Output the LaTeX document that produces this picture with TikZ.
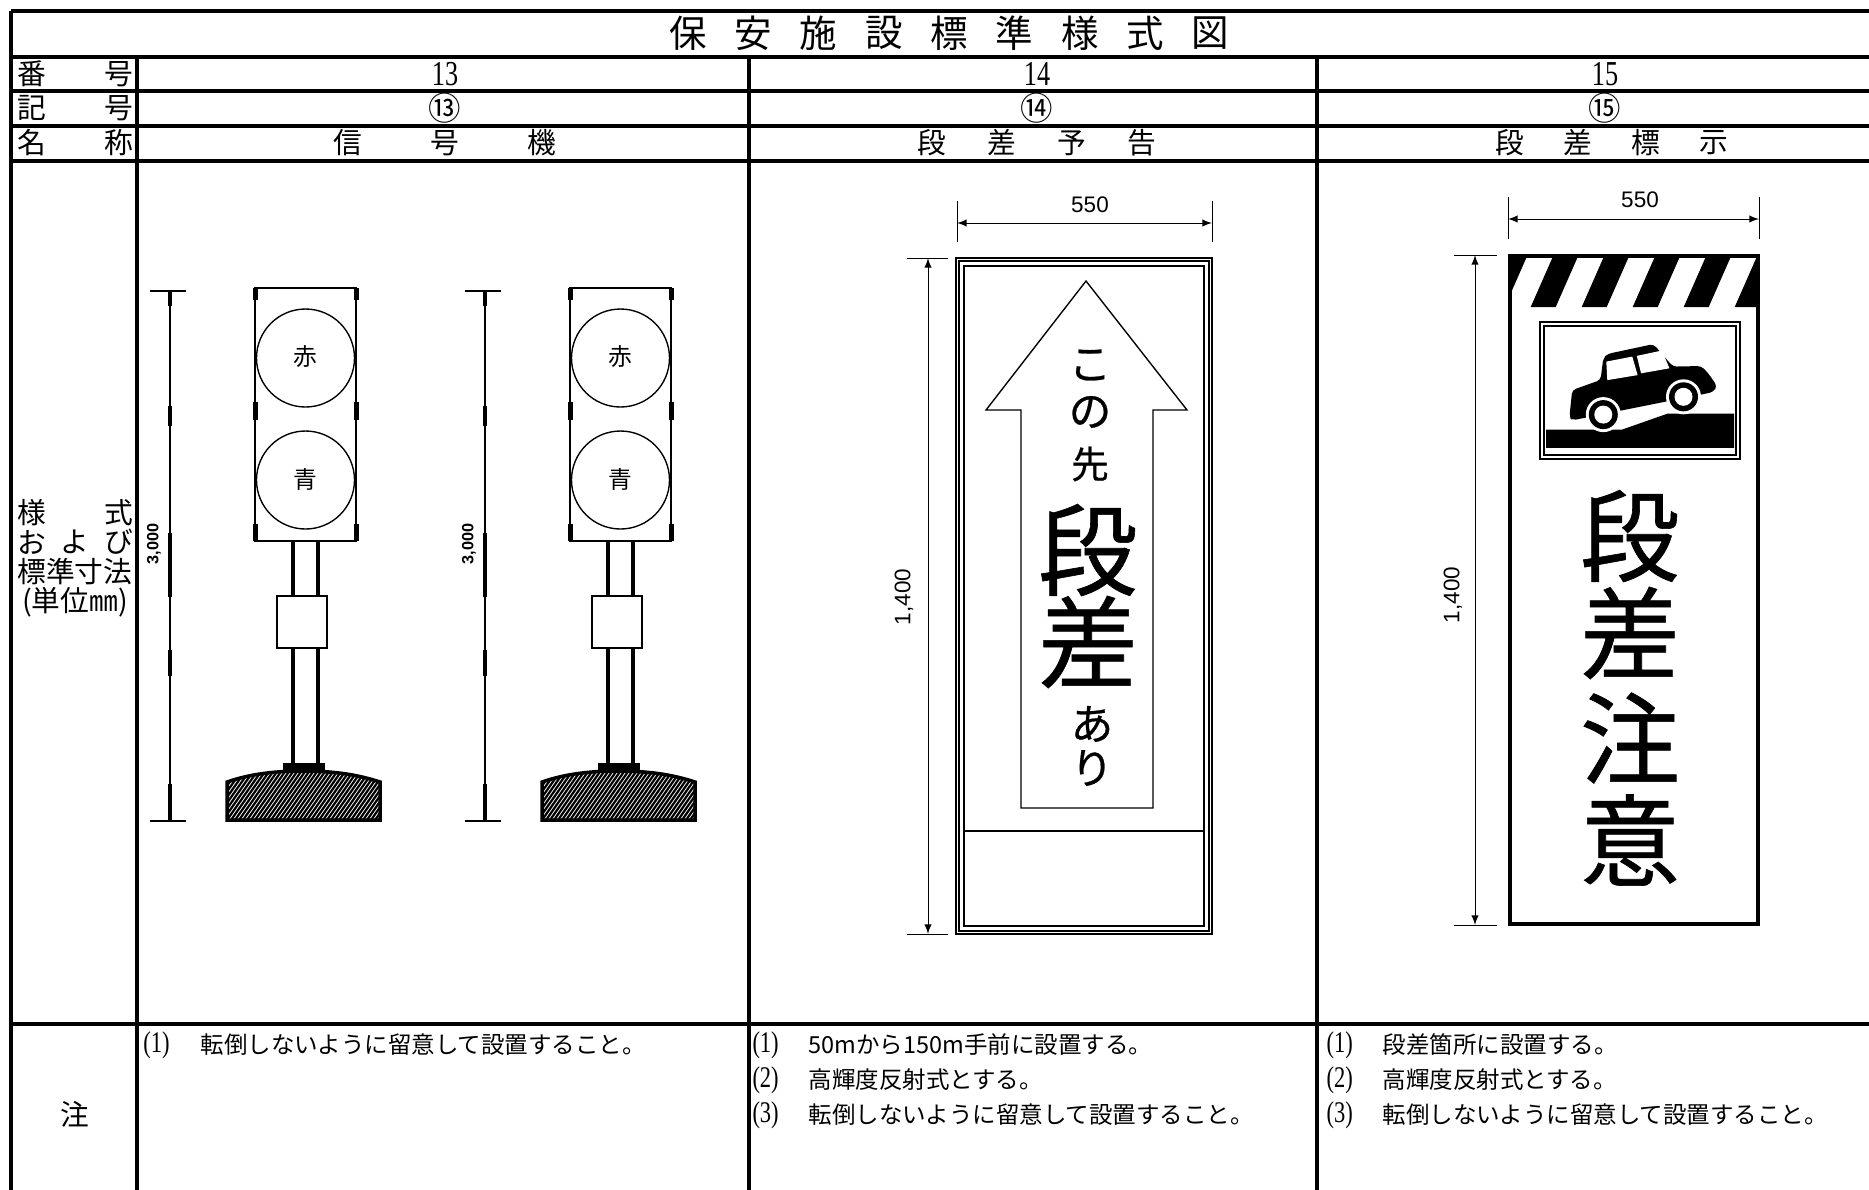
\documentclass[tikz,border=0pt]{standalone}
\usepackage{fontspec}
\usepackage{tikz}
\usetikzlibrary{arrows}
\setmainfont{Liberation Serif}
\newfontfamily\jp{Noto Sans CJK JP}
\newfontfamily\signjp[FakeBold=0.6]{Noto Sans CJK JP}
\newfontfamily\cond[FakeStretch=0.75]{Liberation Serif}
\newfontfamily\dimsf{Liberation Sans}
\newcommand{\fs}[1]{\fontsize{#1}{#1}\selectfont}

\begin{document}
\begin{tikzpicture}[x=0.4pt,y=-0.4pt]
\tikzstyle{rule}=[line width=1.6pt]
\tikzstyle{thin}=[line width=0.55pt]
\tikzstyle{dim}=[line width=0.35pt]
\tikzstyle{title}=[inner sep=0pt,font=\jp\fs{15}]
\tikzstyle{head}=[inner sep=0pt,font=\jp\fs{11.5}]
\tikzstyle{num}=[inner sep=0pt,font=\cond\fs{14}]
\tikzstyle{note}=[inner sep=0pt,anchor=west,font=\jp\fs{9.4}]
\tikzstyle{noteno}=[inner sep=0pt,anchor=west,font=\cond\fs{12}]
\tikzstyle{dimtext}=[inner sep=0pt,font=\dimsf\fs{9}]
\tikzstyle{big}=[inner sep=0pt,font=\signjp\fs{40}]
\tikzstyle{small}=[inner sep=0pt,font=\signjp\fs{17}]

\useasboundingbox (0,0) rectangle (1869,1189);
\fill[white] (0,0) rectangle (1869,1189);
\clip (0,0) rectangle (1869,1189);

% table
\foreach \y in {11,57,91,126,161,1024}
    \draw[rule] (11,\y) -- (1900,\y);
\draw[rule] (11,11) -- (11,1200);
\foreach \x in {137,749,1317}
    \draw[rule] (\x,57) -- (\x,1200);

\foreach \c [count=\i] in {保,安,施,設,標,準,様,式,図}
    \node[title] (title\i) at ({688+65.3*(\i-1)},33) {\c};

\node[head,anchor=west] (ban) at (17,74) {番};
\node[head,anchor=east] (ban2) at (134,74) {号};
\node[head,anchor=west] (ki) at (17,108) {記};
\node[head,anchor=east] (ki2) at (134,108) {号};
\node[head,anchor=west] (mei) at (17,143) {名};
\node[head,anchor=east] (mei2) at (134,143) {称};

\node[num] (no13) at (445,74) {13};
\node[num] (no14) at (1037,74) {14};
\node[num] (no15) at (1605,74) {15};
\node[head,font=\jp\fs{13}] (mk13) at (445,108) {⑬};
\node[head,font=\jp\fs{13}] (mk14) at (1037,108) {⑭};
\node[head,font=\jp\fs{13}] (mk15) at (1605,108) {⑮};

\foreach \c [count=\i] in {信,号,機}
    \node[head] (nameA\i) at ({348+97*(\i-1)},143) {\c};
\foreach \c [count=\i] in {段,差,予,告}
    \node[head] (nameB\i) at ({932+70*(\i-1)},143) {\c};
\foreach \c [count=\i] in {段,差,標,示}
    \node[head] (nameC\i) at ({1510+68*(\i-1)},143) {\c};

\node[head,anchor=west] (yo1) at (17,513) {様};
\node[head,anchor=east] (yo2) at (134,513) {式};
\node[head,anchor=west] (oyo1) at (17,542) {お};
\node[head] (oyo2) at (75,542) {よ};
\node[head,anchor=east] (oyo3) at (134,542) {び};
\node[head] (std) at (75,572) {標準寸法};
\node[head] (unit) at (75,602) {(単位㎜)};

% notes
\node[head] (chu) at (75,1114) {注};
\node[noteno] (a1n) at (143,1045) {(1)};
\node[note] (a1) at (200,1045) {転倒しないように留意して設置すること。};
\node[noteno] (b1n) at (752,1045) {(1)};
\node[note] (b1) at (808,1045) {50mから150m手前に設置する。};
\node[noteno] (b2n) at (752,1080) {(2)};
\node[note] (b2) at (808,1080) {高輝度反射式とする。};
\node[noteno] (b3n) at (752,1115) {(3)};
\node[note] (b3) at (808,1115) {転倒しないように留意して設置すること。};
\node[noteno] (c1n) at (1326,1045) {(1)};
\node[note] (c1) at (1382,1045) {段差箇所に設置する。};
\node[noteno] (c2n) at (1326,1080) {(2)};
\node[note] (c2) at (1382,1080) {高輝度反射式とする。};
\node[noteno] (c3n) at (1326,1115) {(3)};
\node[note] (c3) at (1382,1115) {転倒しないように留意して設置すること。};

% signal
\def\basepath{(227,820) -- (227,782) .. controls (250,774) and (275,771) .. (303,771) .. controls (331,771) and (356,774) .. (380,782) -- (380,820) -- cycle}
\foreach \sx/\tl in {0/a,315/b}{
\begin{scope}[shift={(\sx,0)}]
    \coordinate (top\tl) at (170,291);
    \coordinate (bot\tl) at (170,821);
    \draw[thin] (150,291) -- (186,291);
    \draw[thin] (150,821) -- (186,821);
    \draw[line width=0.5pt] (top\tl) -- (bot\tl);
    \foreach \ya/\yb in {291/306,406/426,533/597,650/676,784/820}
        \draw[line width=1.4pt] (170,\ya) -- (170,\yb);
    \node[rotate=90,inner sep=0pt,font=\dimsf\bfseries\fs{6.5}] (h\tl) at (154,544) {3,000};
    \draw[line width=0.8pt] (255,288) rectangle (356,541);
    \foreach \xx in {255,356}
        \foreach \ya/\yb in {288/300,402/420,524/541}
            \draw[line width=2pt] (\xx,\ya) -- (\xx,\yb);
    \draw[thin] (305.5,358) circle (49);
    \draw[thin] (305.5,480) circle (49);
    \node[inner sep=0pt,font=\jp\fs{9.5}] (red\tl) at (305.5,357) {赤};
    \node[inner sep=0pt,font=\jp\fs{9.5}] (blue\tl) at (305.5,479) {青};
    \foreach \xx in {292.7,318.3}{
        \draw[rule] (\xx,541) -- (\xx,596);
        \draw[rule] (\xx,648) -- (\xx,763);
    }
    \draw[line width=0.8pt] (277,596) rectangle (327,648);
    \begin{scope}
        \clip \basepath;
        \foreach \i in {0,...,60}
            \draw[line width=0.9pt] ({180+4*\i},830) -- ++(45,-64);
    \end{scope}
    \draw[line width=1.4pt] \basepath;
    \fill (283,763) rectangle (325,772);
\end{scope}
}

% sign 14
\coordinate (w2l) at (957,223);
\coordinate (w2r) at (1212,223);
\draw[dim] (957,201) -- (957,242);
\draw[dim] (1212,201) -- (1212,242);
\draw[dim,<->,>=latex] (w2l) -- (w2r);
\node[dimtext] (w2) at (1090,205) {550};
\coordinate (h2t) at (928,258);
\coordinate (h2b) at (928,934);
\draw[dim] (907,258) -- (948,258);
\draw[dim] (907,934) -- (948,934);
\draw[dim,<->,>=latex] (h2t) -- (h2b);
\node[dimtext,rotate=90] (h2) at (904,597) {1,400};
\draw[thin] (956,258) rectangle (1212,934);
\draw[thin] (959,261) rectangle (1209,931);
\draw[thin] (964,266) rectangle (1204,926);
\draw[thin] (964,831) -- (1204,831);
\draw[thin] (1086,281) -- (1187,410) -- (1153,410) -- (1153,808)
    -- (1021,808) -- (1021,410) -- (986,410) -- cycle;
\node[small] (ko) at (1090,365) {こ};
\node[small] (no) at (1090,412) {の};
\node[small,font=\signjp\fs{15}] (saki) at (1090,464) {先};
\node[big] (dan2) at (1088,550) {段};
\node[big] (sa2) at (1088,642) {差};
\node[small] (a) at (1092,724) {あ};
\node[small] (ri) at (1092,768) {り};

% sign 15
\coordinate (w3l) at (1508,219);
\coordinate (w3r) at (1759,219);
\draw[dim] (1508,197) -- (1508,239);
\draw[dim] (1759,197) -- (1759,239);
\draw[dim,<->,>=latex] (w3l) -- (w3r);
\node[dimtext] (w3) at (1640,200) {550};
\coordinate (h3t) at (1475,255);
\coordinate (h3b) at (1475,925);
\draw[dim] (1454,255) -- (1497,255);
\draw[dim] (1454,925) -- (1497,925);
\draw[dim,<->,>=latex] (h3t) -- (h3b);
\node[dimtext,rotate=90] (h3) at (1453,595) {1,400};
\begin{scope}
    \clip (1511,257) rectangle (1757,307);
    \foreach \k in {-2,...,5}
        \fill ({1530.7+51*\k},307) -- ++(25,0) -- ++(22,-50) -- ++(-25,0) -- cycle;
\end{scope}
\draw[line width=1.4pt] (1510,256) rectangle (1758,924);
\draw[thin] (1540,322) rectangle (1740,459);
\draw[thin] (1544,326) rectangle (1736,455);
\fill (1546,447.8) -- (1546,429.7) -- (1621.7,429.7) -- (1667.6,413.6)
    -- (1734,413.6) -- (1734,447.8) -- cycle;
\fill[rounded corners=1.5] (1569.4,417) -- (1572.2,390.1) -- (1600.5,380) -- (1603.3,358.2)
    -- (1607.5,353.9) -- (1653.5,344.1) -- (1672.9,366.6) -- (1701.2,366)
    -- (1708.3,373.3) -- (1717.1,386.1) -- (1713.6,391.8) -- (1706.5,393.5)
    -- (1572.2,420.3) -- cycle;
\fill[white] (1606.3,361.6) -- (1632.3,356.6) -- (1637.6,375.1) -- (1607.3,380.1) -- cycle;
\fill[white] (1636.8,355.9) -- (1662,350.5) -- (1669.4,368.3) -- (1641.1,373.3) -- cycle;
\foreach \cx/\cy/\w in {1603.3/414.6/rear,1683.5/396.8/front}{
    \fill[white] (\cx,\cy) circle (17.5);
    \fill (\cx,\cy) circle (14.5);
    \fill[white] (\cx,\cy) circle (9);
    \coordinate (wheel\w) at (\cx,\cy);
}
\foreach \c/\yy [count=\i] in {段/536,差/633,注/738,意/840}
    \node[big] (mark\i) at (1630,\yy) {\c};
\end{tikzpicture}
\end{document}
